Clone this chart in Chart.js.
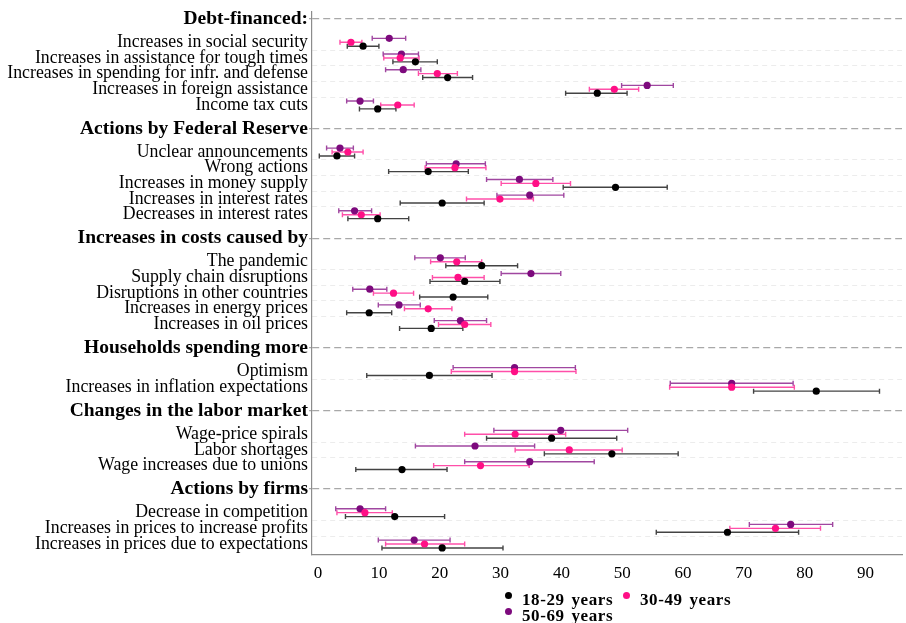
<!DOCTYPE html>
<html>
<head>
<meta charset="utf-8">
<script src="https://cdn.jsdelivr.net/npm/chart.js@4.4.1/dist/chart.umd.min.js"></script>
<style>
  body { margin: 0; background: #fff; }
  #wrap { position: relative; width: 906px; height: 623px; }
  #legend {
    position: absolute; left: 502px; top: 592px;
    display: grid; grid-template-columns: 118px 120px; row-gap: 0;
    font-family: 'Liberation Serif', serif; font-weight: bold; font-size: 17px;
    line-height: 16px; letter-spacing: 0.6px; word-spacing: 2px;
  }
  #legend span.item { display: flex; align-items: flex-start; white-space: nowrap; }
  #legend i { display: inline-block; width: 7px; height: 7px; border-radius: 50%; margin: 0 10px 0 3px; }
</style>
</head>
<body>
<div id="wrap">
  <canvas id="chart"></canvas>
  <div id="legend"></div>
</div>
<script>
const GROUP_TITLES = [
    'Debt-financed:',
    'Actions by Federal Reserve',
    'Increases in costs caused by',
    'Households spending more',
    'Changes in the labor market',
    'Actions by firms'
];

const GROUP_ITEMS = [
    ['Increases in social security', 'Increases in assistance for tough times',
     'Increases in spending for infr. and defense', 'Increases in foreign assistance', 'Income tax cuts'],
    ['Unclear announcements', 'Wrong actions', 'Increases in money supply',
     'Increases in interest rates', 'Decreases in interest rates'],
    ['The pandemic', 'Supply chain disruptions', 'Disruptions in other countries',
     'Increases in energy prices', 'Increases in oil prices'],
    ['Optimism', 'Increases in inflation expectations'],
    ['Wage-price spirals', 'Labor shortages', 'Wage increases due to unions'],
    ['Decrease in competition', 'Increases in prices to increase profits', 'Increases in prices due to expectations']
];

const SERIES_LABELS = ['18-29 years', '30-49 years', '50-69 years'];

const AGE_18_29 = [7.4, 16.0, 21.3, 45.9, 9.8, 3.1, 18.1, 48.9, 20.4, 9.8, 26.9, 24.1, 22.2, 8.4, 18.6, 18.3, 81.9, 38.4, 48.3, 13.8, 12.6, 67.3, 20.4];
const LO_18_29  = [4.8, 12.3, 17.2, 40.7, 6.8, 0.2, 11.6, 40.3, 13.5, 4.9, 21.0, 18.4, 16.7, 4.7, 13.4, 8.0, 71.6, 27.7, 37.2, 6.2, 4.5, 55.6, 10.5];
const HI_18_29  = [10.0, 19.6, 25.4, 50.8, 12.8, 6.0, 24.7, 57.4, 27.3, 14.9, 32.8, 29.9, 27.9, 12.1, 23.8, 28.6, 92.3, 49.1, 59.2, 21.2, 20.8, 79.0, 30.4];

const AGE_30_49 = [5.4, 13.5, 19.6, 48.7, 13.1, 4.9, 22.5, 35.8, 29.9, 7.1, 22.8, 23.0, 12.4, 18.1, 24.1, 32.3, 68.0, 32.4, 41.3, 26.7, 7.7, 75.2, 17.5];
const LO_30_49  = [3.6, 10.8, 16.5, 44.6, 10.3, 2.3, 17.6, 30.1, 24.4, 4.0, 18.5, 18.8, 9.1, 14.2, 19.8, 21.9, 57.8, 24.1, 32.4, 19.0, 3.1, 67.7, 11.1];
const HI_30_49  = [7.2, 16.6, 22.9, 52.7, 15.8, 7.4, 27.6, 41.5, 35.4, 10.2, 26.9, 27.3, 15.7, 22.0, 28.4, 42.4, 78.3, 40.7, 50.0, 34.7, 12.2, 82.6, 24.1];

const AGE_50_69 = [11.7, 13.7, 14.0, 54.1, 6.9, 3.6, 22.7, 33.1, 34.8, 6.0, 20.1, 35.0, 8.5, 13.3, 23.4, 32.3, 68.0, 39.9, 25.8, 34.8, 6.9, 77.7, 15.8];
const LO_50_69  = [8.9, 10.7, 11.1, 49.9, 4.7, 1.4, 17.8, 27.7, 29.4, 3.4, 15.9, 30.1, 5.7, 9.9, 19.1, 22.2, 57.9, 28.9, 16.0, 24.1, 2.9, 70.9, 9.9];
const HI_50_69  = [14.4, 16.5, 16.9, 58.4, 9.1, 5.8, 27.5, 38.6, 40.4, 8.8, 24.2, 39.9, 11.3, 16.8, 27.7, 42.3, 78.1, 50.9, 35.6, 45.4, 11.1, 84.6, 21.7];

const X_TICKS = [0, 10, 20, 30, 40, 50, 60, 70, 80, 90];

// row positions: header, then items one unit apart, wider gap before each header
const yTicks = [];
const itemPos = [];
let pos = 0;
GROUP_TITLES.forEach(function (title, g) {
    if (g > 0) pos += 1.5;
    yTicks.push({value: pos, text: title, kind: 'header'});
    pos += 0.5;
    GROUP_ITEMS[g].forEach(function (label, k) {
        pos += 1;
        if (k > 0) yTicks.push({value: pos - 0.5, text: '', kind: 'sep'});
        yTicks.push({value: pos, text: label, kind: 'item'});
        itemPos.push(pos);
    });
});

function points(vals, lo, hi, shift) {
    return vals.map(function (v, i) {
        return {x: v, y: itemPos[i] + shift, lo: lo[i], hi: hi[i]};
    });
}

const FONT = "'Liberation Serif', serif";

function kindAt(ctx) {
    const t = ctx && ctx.index !== undefined ? yTicks[ctx.index] : null;
    return t ? t.kind : null;
}

const errorBars = {
    id: 'errorBars',
    beforeDatasetsDraw: function (chart) {
        const ctx = chart.ctx;
        const x = chart.scales.x, y = chart.scales.y;
        chart.data.datasets.forEach(function (ds) {
            ctx.save();
            ctx.strokeStyle = ds.whiskerColor;
            ctx.lineWidth = 1.4;
            ds.data.forEach(function (p) {
                const x0 = x.getPixelForValue(p.lo);
                const x1 = x.getPixelForValue(p.hi);
                const yy = y.getPixelForValue(p.y);
                ctx.beginPath();
                ctx.moveTo(x0, yy); ctx.lineTo(x1, yy);
                ctx.moveTo(x0, yy - 2.5); ctx.lineTo(x0, yy + 2.5);
                ctx.moveTo(x1, yy - 2.5); ctx.lineTo(x1, yy + 2.5);
                ctx.stroke();
            });
            ctx.restore();
        });
    }
};

const chart = new Chart(document.querySelector('#chart').getContext('2d'), {
    type: 'scatter',
    data: {
        datasets: [
            {label: SERIES_LABELS[0], data: points(AGE_18_29, LO_18_29, HI_18_29, 0.25),
             backgroundColor: '#000000', borderColor: '#000000', whiskerColor: 'rgba(20,20,20,0.8)'},
            {label: SERIES_LABELS[1], data: points(AGE_30_49, LO_30_49, HI_30_49, 0),
             backgroundColor: '#ff0f86', borderColor: '#ff0f86', whiskerColor: 'rgba(255,20,140,0.75)'},
            {label: SERIES_LABELS[2], data: points(AGE_50_69, LO_50_69, HI_50_69, -0.25),
             backgroundColor: '#7d0a7d', borderColor: '#7d0a7d', whiskerColor: 'rgba(128,10,128,0.75)'}
        ]
    },
    options: {
        responsive: true,
        maintainAspectRatio: false,
        animation: false,
        layout: {padding: {top: 9, right: 1, left: 0, bottom: 0}},
        elements: {point: {radius: 3.6, borderWidth: 0}},
        plugins: {legend: {display: false}, tooltip: {enabled: false}},
        scales: {
            x: {
                type: 'linear',
                min: -1,
                max: 96,
                afterBuildTicks: function (axis) {
                    axis.ticks = X_TICKS.map(function (v) { return {value: v}; });
                },
                afterFit: function (axis) {
                    axis.height = 68;
                    axis.paddingLeft = 0;
                    axis.paddingRight = 0;
                },
                grid: {display: false},
                border: {display: true, color: '#8c8c8c', width: 1.2},
                ticks: {color: '#000', padding: 0, font: {family: FONT, size: 17}}
            },
            y: {
                type: 'linear',
                reverse: true,
                min: -0.45,
                max: 34.2,
                afterBuildTicks: function (axis) {
                    axis.ticks = yTicks.map(function (t) { return {value: t.value}; });
                },
                afterFit: function (axis) { axis.width = 312; },
                grid: {
                    color: function (ctx) {
                        const k = kindAt(ctx);
                        return k === 'header' ? '#a8a8a8' : (k === 'sep' ? '#ececec' : 'rgba(0,0,0,0)');
                    },
                    lineWidth: function (ctx) { return kindAt(ctx) === 'header' ? 1.3 : 1; },
                    tickColor: function (ctx) { return kindAt(ctx) === 'header' ? '#a8a8a8' : 'rgba(0,0,0,0)'; },
                    tickLength: 3
                },
                border: {
                    display: true, color: '#8c8c8c', width: 1.2,
                    dash: function (ctx) { return kindAt(ctx) === 'header' ? [7, 4] : [5, 4]; }
                },
                ticks: {
                    autoSkip: false,
                    padding: 1,
                    color: '#000',
                    callback: function (value, index) { return yTicks[index].text; },
                    font: function (ctx) {
                        const bold = kindAt(ctx) === 'header';
                        return {family: FONT, size: bold ? 19.5 : 17.8, weight: bold ? 'bold' : 'normal'};
                    }
                }
            }
        }
    },
    plugins: [errorBars]
});

// legend in two columns, built from the chart's datasets
const legend = document.querySelector('#legend');
chart.data.datasets.forEach(function (ds) {
    const item = document.createElement('span');
    item.className = 'item';
    const dot = document.createElement('i');
    dot.style.background = ds.backgroundColor;
    item.appendChild(dot);
    item.appendChild(document.createTextNode(ds.label));
    legend.appendChild(item);
});
</script>
</body>
</html>
